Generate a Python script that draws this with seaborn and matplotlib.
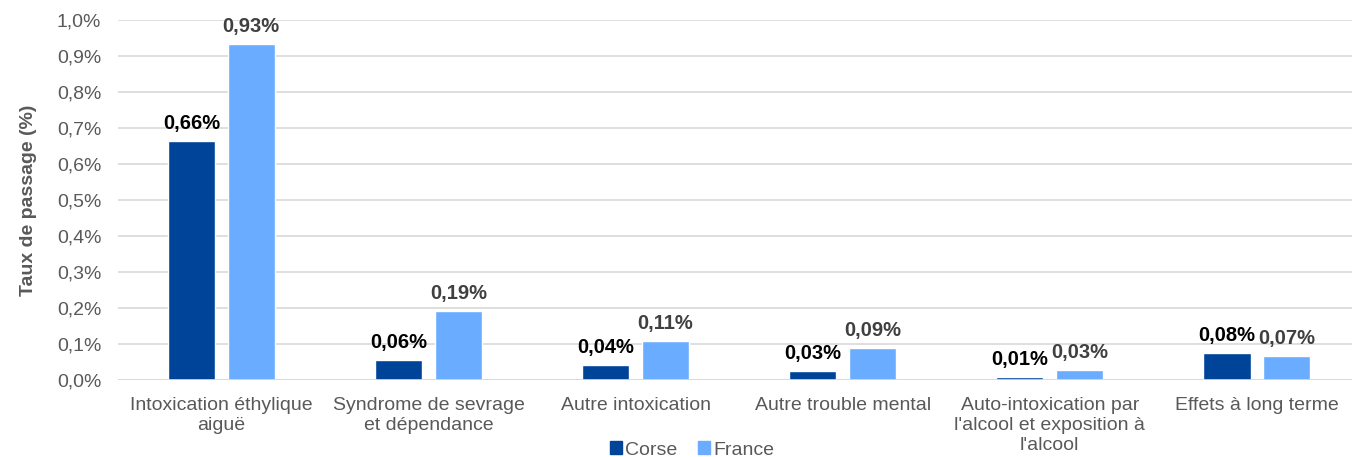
import pandas as pd
import matplotlib.pyplot as plt
import seaborn as sns
from matplotlib.patches import Patch

# -----------------------------------------------------
# Data
# -----------------------------------------------------
categories = [
    "Intoxication éthylique\naiguë",
    "Syndrome de sevrage\net dépendance",
    "Autre intoxication",
    "Autre trouble mental",
    "Auto-intoxication par\nl'alcool et exposition à\nl'alcool",
    "Effets à long terme",
]
corse = [0.664, 0.056, 0.042, 0.025, 0.008, 0.075]
france = [0.933, 0.192, 0.108, 0.089, 0.028, 0.067]
corse_labels = ["0,66%", "0,06%", "0,04%", "0,03%", "0,01%", "0,08%"]
france_labels = ["0,93%", "0,19%", "0,11%", "0,09%", "0,03%", "0,07%"]
yticks = [0.0, 0.1, 0.2, 0.3, 0.4, 0.5, 0.6, 0.7, 0.8, 0.9, 1.0]

df = pd.DataFrame({
    "cat": categories * 2,
    "zone": ["Corse"] * 6 + ["France"] * 6,
    "val": corse + france,
})

colors = {"Corse": "#00449A", "France": "#6AACFF"}

sns.set_style("white")
plt.rcParams["font.family"] = ["Liberation Sans", "DejaVu Sans"]

fig = plt.figure(figsize=(13.52, 4.57), dpi=100)
ax = fig.add_axes([118 / 1352, 1 - 380 / 457, 1 - 118 / 1352, 360 / 457])

sns.barplot(data=df, x="cat", y="val", hue="zone", palette=colors, saturation=1,
            width=0.575, gap=0.21, ax=ax, legend=False, zorder=3)

# data labels
for container, labels, col in zip(ax.containers, [corse_labels, france_labels],
                                  ["#000000", "#404040"]):
    for bar, lab in zip(container, labels):
        ax.annotate(lab, (bar.get_x() + bar.get_width() / 2, bar.get_height()),
                    xytext=(0, 6), textcoords="offset points",
                    ha="center", va="bottom", fontsize=14.5,
                    fontweight="bold", color=col)

ax.set_ylim(0, 1.0)
ax.set_xlim(-0.5, 5.46)
ax.set_yticks(yticks)
ax.set_yticklabels([f"{v:.1f}%".replace(".", ",") for v in yticks])
ax.yaxis.grid(True, color="#d9d9d9", linewidth=1.2, zorder=0)
for s in ax.spines.values():
    s.set_visible(False)
ax.axhline(0, color="#d9d9d9", linewidth=1.2, zorder=4)
ax.tick_params(axis="both", length=0, labelsize=14, colors="#595959", pad=12)
ax.tick_params(axis="x", pad=12)
for t in ax.get_xticklabels():
    t.set_linespacing(1.25)
ax.set_xlabel("")
ax.set_ylabel("Taux de passage (%)", fontsize=14, fontweight="bold",
              color="#595959", labelpad=14)

handles = [Patch(color=colors["Corse"], label="Corse"),
           Patch(color=colors["France"], label="France")]
fig.legend(handles=handles, loc="center", bbox_to_anchor=(692 / 1352, 1 - 450 / 457),
           ncol=2, frameon=False, fontsize=14, handlelength=0.6, handleheight=0.6,
           handletextpad=0.15, columnspacing=1.1, labelcolor="#595959")

plt.savefig("out.png", dpi=100)
